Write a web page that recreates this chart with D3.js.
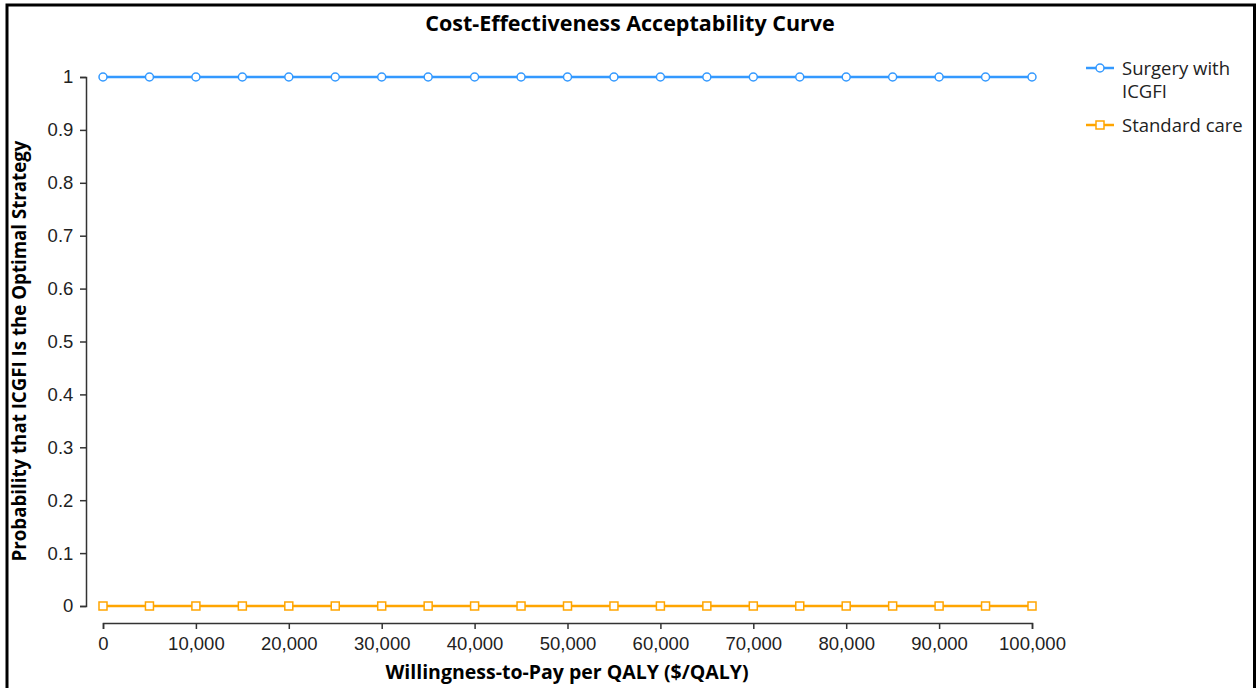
<!DOCTYPE html>
<html><head><meta charset="utf-8">
<script src="https://d3js.org/d3.v7.min.js"></script>
<style>body{margin:0;background:#fff;}svg{display:block;font-family:"Open Sans","Noto Sans",sans-serif;}</style>
</head><body>
<svg id="c" width="1257" height="688"></svg>
<script>
const wtp = [0,5000,10000,15000,20000,25000,30000,35000,40000,45000,50000,55000,60000,65000,70000,75000,80000,85000,90000,95000,100000];
const surgery = [1,1,1,1,1,1,1,1,1,1,1,1,1,1,1,1,1,1,1,1,1];
const standard = [0,0,0,0,0,0,0,0,0,0,0,0,0,0,0,0,0,0,0,0,0];
const seriesNames = ["Surgery with ICGFI","Standard care"];
const seriesColors = ["#3399ff","#ffa500"];
const xTicks = [0,10000,20000,30000,40000,50000,60000,70000,80000,90000,100000];
const yTicks = [0,0.1,0.2,0.3,0.4,0.5,0.6,0.7,0.8,0.9,1];

const svg = d3.select("#c");
svg.append("rect").attr("x",7).attr("y",5).attr("width",1247.5).attr("height",690)
  .attr("fill","none").attr("stroke","#000").attr("stroke-width",3);

const x = d3.scaleLinear().domain([0,100000]).range([103,1032]);
const y = d3.scaleLinear().domain([0,1]).range([606,77]);

const xAxis = d3.axisBottom(x).tickValues(xTicks).tickFormat(d3.format(",")).tickSizeOuter(6).tickSize(6);
const gx = svg.append("g").attr("transform","translate(0,623)").call(xAxis);
const yAxis = d3.axisLeft(y).tickValues(yTicks).tickFormat(d=>d3.format("")(+d.toFixed(1))).tickSize(6).tickSizeOuter(6);
const gy = svg.append("g").attr("transform","translate(86,0)").call(yAxis);
[gx,gy].forEach(g=>{
  g.selectAll(".domain").attr("stroke","#333").attr("stroke-width",1.5);
  g.selectAll(".tick line").attr("stroke","#333").attr("stroke-width",1.5);
  g.selectAll(".tick text").attr("fill","#222").style("font-size","18.5px");
});
gx.selectAll(".tick text").attr("dy","0.95em");
gy.selectAll(".tick text").attr("dx","-0.2em");

svg.append("text").attr("x",630).attr("y",31).attr("text-anchor","middle")
  .style("font-size","21.5px").style("font-weight","bold").text("Cost-Effectiveness Acceptability Curve");
svg.append("text").attr("x",567).attr("y",679).attr("text-anchor","middle")
  .style("font-size","19.5px").style("font-weight","bold").text("Willingness-to-Pay per QALY ($/QALY)");
svg.append("text").attr("transform","translate(26,351) rotate(-90)").attr("text-anchor","middle")
  .style("font-size","18.7px").style("font-weight","bold").text("Probability that ICGFI Is the Optimal Strategy");

const line = d3.line().x((d,i)=>x(wtp[i])).y(d=>y(d));
svg.append("path").datum(standard).attr("d",line).attr("fill","none").attr("stroke",seriesColors[1]).attr("stroke-width",2.5);
svg.selectAll(".sq").data(standard).enter().append("rect")
  .attr("x",(d,i)=>x(wtp[i])-4).attr("y",d=>y(d)-4).attr("width",8).attr("height",8)
  .attr("fill","#fff").attr("stroke",seriesColors[1]).attr("stroke-width",1.5);
svg.append("path").datum(surgery).attr("d",line).attr("fill","none").attr("stroke",seriesColors[0]).attr("stroke-width",2.5);
svg.selectAll(".ci").data(surgery).enter().append("circle")
  .attr("cx",(d,i)=>x(wtp[i])).attr("cy",d=>y(d)).attr("r",4)
  .attr("fill","#fff").attr("stroke",seriesColors[0]).attr("stroke-width",1.5);

const lg = svg.append("g");
lg.append("line").attr("x1",1086).attr("x2",1114).attr("y1",68).attr("y2",68).attr("stroke",seriesColors[0]).attr("stroke-width",2.5);
lg.append("circle").attr("cx",1100).attr("cy",68).attr("r",4).attr("fill","#fff").attr("stroke",seriesColors[0]).attr("stroke-width",1.5);
lg.append("text").attr("x",1122).attr("y",75).style("font-size","18.5px").attr("fill","#222").text("Surgery with");
lg.append("text").attr("x",1122).attr("y",98).style("font-size","18.5px").attr("fill","#222").text("ICGFI");
lg.append("line").attr("x1",1086).attr("x2",1114).attr("y1",125).attr("y2",125).attr("stroke",seriesColors[1]).attr("stroke-width",2.5);
lg.append("rect").attr("x",1096).attr("y",121).attr("width",8).attr("height",8).attr("fill","#fff").attr("stroke",seriesColors[1]).attr("stroke-width",1.5);
lg.append("text").attr("x",1122).attr("y",132).style("font-size","18.5px").attr("fill","#222").text("Standard care");
</script>
</body></html>
